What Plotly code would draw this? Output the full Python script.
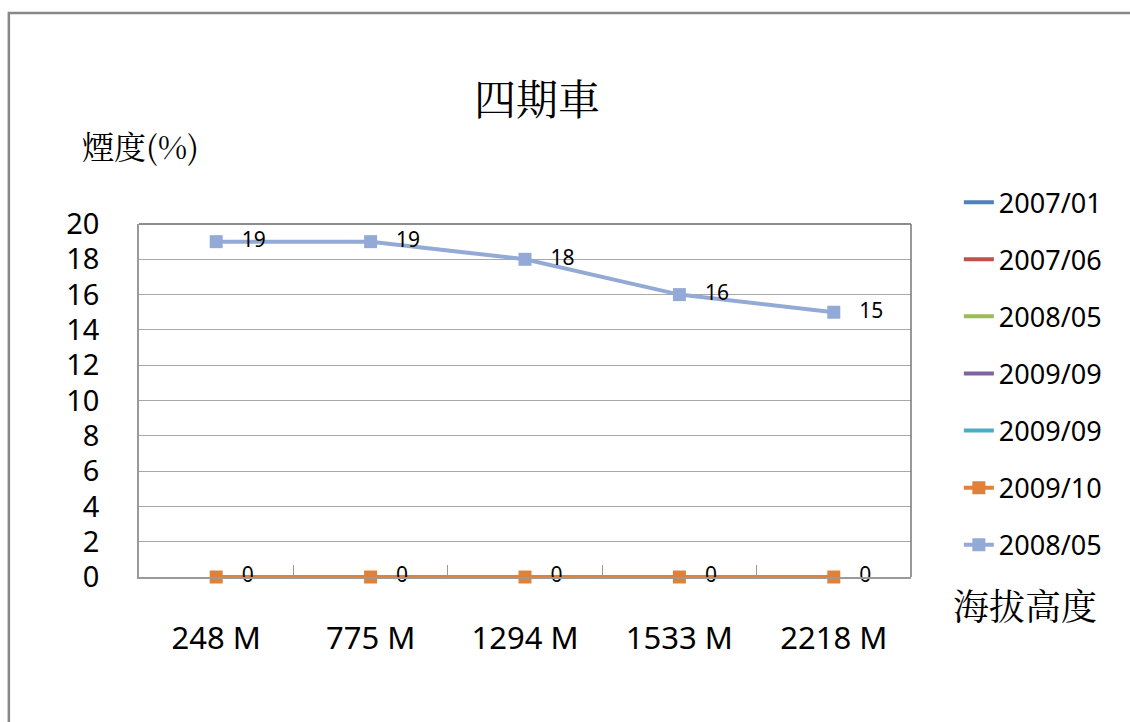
import plotly.graph_objects as go

categories = ["248 M", "775 M", "1294 M", "1533 M", "2218 M"]
series_names = ["2007/01", "2007/06", "2008/05", "2009/09", "2009/09", "2009/10", "2008/05"]
series_colors = ["#4F81BD", "#C0504D", "#9BBB59", "#8064A2", "#4BACC6", "#DF8138", "#93AAD6"]
series_values = [
    [None, None, None, None, None],
    [None, None, None, None, None],
    [None, None, None, None, None],
    [None, None, None, None, None],
    [None, None, None, None, None],
    [0, 0, 0, 0, 0],
    [19, 19, 18, 16, 15],
]
has_markers = [False, False, False, False, False, True, True]

TXT_FONT = "Noto Sans, Noto Sans CJK TC, sans-serif"
CJK_FONT = "Noto Serif CJK TC, Noto Sans CJK TC, sans-serif"

fig = go.Figure()
for i, (name, color, vals, mk) in enumerate(zip(series_names, series_colors, series_values, has_markers)):
    fig.add_trace(go.Scatter(
        x=categories, y=vals, name=name,
        mode="lines+markers+text" if mk else "lines",
        line=dict(color=color, width=4),
        marker=dict(symbol="square", size=13, color=color),
        text=["   " + str(v) if v is not None else "" for v in vals] if mk else None,
        textposition="middle right",
        textfont=dict(family=TXT_FONT, size=21, color="#000000"),
        legendgroup=f"g{i}",
        cliponaxis=False,
    ))

fig.update_layout(
    width=1130, height=722,
    margin=dict(l=139, r=219, t=224, b=145),
    paper_bgcolor="white", plot_bgcolor="white",
    showlegend=True,
    legend=dict(
        x=1.062, y=1.13, xanchor="left", yanchor="top",
        font=dict(family=TXT_FONT, size=27, color="#000000"),
        traceorder="grouped", tracegroupgap=19,
        bgcolor="rgba(0,0,0,0)",
        maxheight=1.0,
    ),
    xaxis=dict(
        type="category", range=[-0.5, 4.5],
        showline=True, linecolor="#9a9a9a", linewidth=1.5,
        ticks="inside", tickson="boundaries", ticklen=12, tickcolor="#9a9a9a",
        showgrid=False, zeroline=False,
        tickfont=dict(family=TXT_FONT, size=31, color="#000000"),
        ticklabelstandoff=33,
    ),
    yaxis=dict(
        range=[0, 20], dtick=2, tick0=0,
        showline=True, linecolor="#9a9a9a", linewidth=1.5,
        showgrid=True, gridcolor="#a8a8a8", gridwidth=1,
        zeroline=False, ticks="",
        tickfont=dict(family=TXT_FONT, size=29, color="#000000"),
        ticklabelstandoff=32,
    ),
    shapes=[
        dict(type="rect", xref="paper", yref="paper", x0=-0.1686, x1=1.6, y0=-1.0, y1=1.598,
             line=dict(color="#888888", width=2.5), fillcolor="rgba(0,0,0,0)", layer="below"),
        dict(type="line", xref="paper", yref="paper", x0=0, x1=1, y0=1, y1=1,
             line=dict(color="#666666", width=1.5)),
        dict(type="line", xref="paper", yref="paper", x0=1, x1=1, y0=0, y1=1,
             line=dict(color="#777777", width=1.5)),
    ],
    annotations=[
        dict(text="四期車", xref="paper", yref="paper", x=0.516, y=1.36,
             xanchor="center", yanchor="middle", showarrow=False,
             font=dict(family=CJK_FONT, size=42, color="#000000")),
        dict(text="煙度(%)", xref="paper", yref="paper", x=-0.0765, y=1.224,
             xanchor="left", yanchor="middle", showarrow=False,
             font=dict(family=CJK_FONT, size=32, color="#000000")),
        dict(text="海拔高度", xref="paper", yref="paper", x=1.052, y=-0.079,
             xanchor="left", yanchor="middle", showarrow=False,
             font=dict(family=CJK_FONT, size=36, color="#000000")),
    ],
)

fig.write_html("out.html")
